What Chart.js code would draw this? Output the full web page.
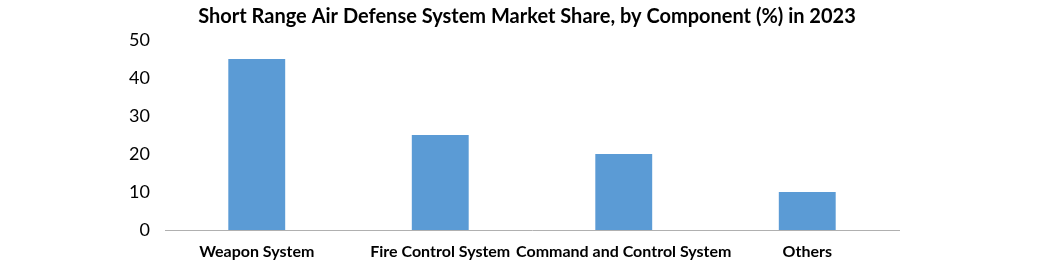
<!DOCTYPE html>
<html>
<head>
<meta charset="utf-8">
<script src="https://cdn.jsdelivr.net/npm/chart.js@4/dist/chart.umd.min.js"></script>
<style>
  html, body { margin: 0; padding: 0; background: #fff; }
</style>
</head>
<body>
<canvas id="shoradChart" width="1054" height="265"></canvas>
<script>
var categories = ["Weapon System", "Fire Control System", "Command and Control System", "Others"];
var shareValues = [45, 25, 20, 10];
var yTicks = [0, 10, 20, 30, 40, 50];

var ctx = document.getElementById("shoradChart");
var myChart = new Chart(ctx, {
    type: 'bar',
    data: {
        labels: categories,
        datasets: [{
            label: "Market Share (%)",
            data: shareValues,
            backgroundColor: '#5B9BD5',
            categoryPercentage: 1,
            barPercentage: 0.31
        }]
    },
    options: {
        responsive: false,
        animation: false,
        devicePixelRatio: 1,
        layout: { padding: 0 },
        plugins: {
            legend: { display: false },
            tooltip: { enabled: false },
            title: {
                display: true,
                text: 'Short Range Air Defense System Market Share, by Component (%) in 2023',
                color: '#000',
                font: { family: 'Lato', size: 20, weight: 'bold' },
                padding: { top: 5, bottom: 11 }
            }
        },
        scales: {
            x: {
                grid: { display: false, drawTicks: false },
                border: { display: true, color: '#b0b0b0', dash: [1, 1] },
                afterFit: function(scale) { scale.height = 35; },
                ticks: {
                    color: '#000',
                    font: { family: 'Lato', size: 16, weight: 'bold' },
                    padding: 12,
                    maxRotation: 0,
                    autoSkip: false
                }
            },
            y: {
                min: 0,
                max: 50,
                afterBuildTicks: function(scale) {
                    scale.ticks = yTicks.map(function(v) { return { value: v }; });
                },
                afterFit: function(scale) { scale.width = 165; },
                grid: { display: false, drawTicks: false },
                border: { display: false },
                ticks: {
                    color: '#000',
                    font: { family: 'Lato', size: 18 },
                    padding: 15
                }
            },
            // empty right-hand axis, only reserves the white space on the right
            yRight: {
                position: 'right',
                min: 0,
                max: 50,
                afterFit: function(scale) { scale.width = 155; },
                grid: { display: false, drawTicks: false },
                border: { display: false },
                ticks: { display: false }
            }
        }
    }
});
</script>
</body>
</html>
